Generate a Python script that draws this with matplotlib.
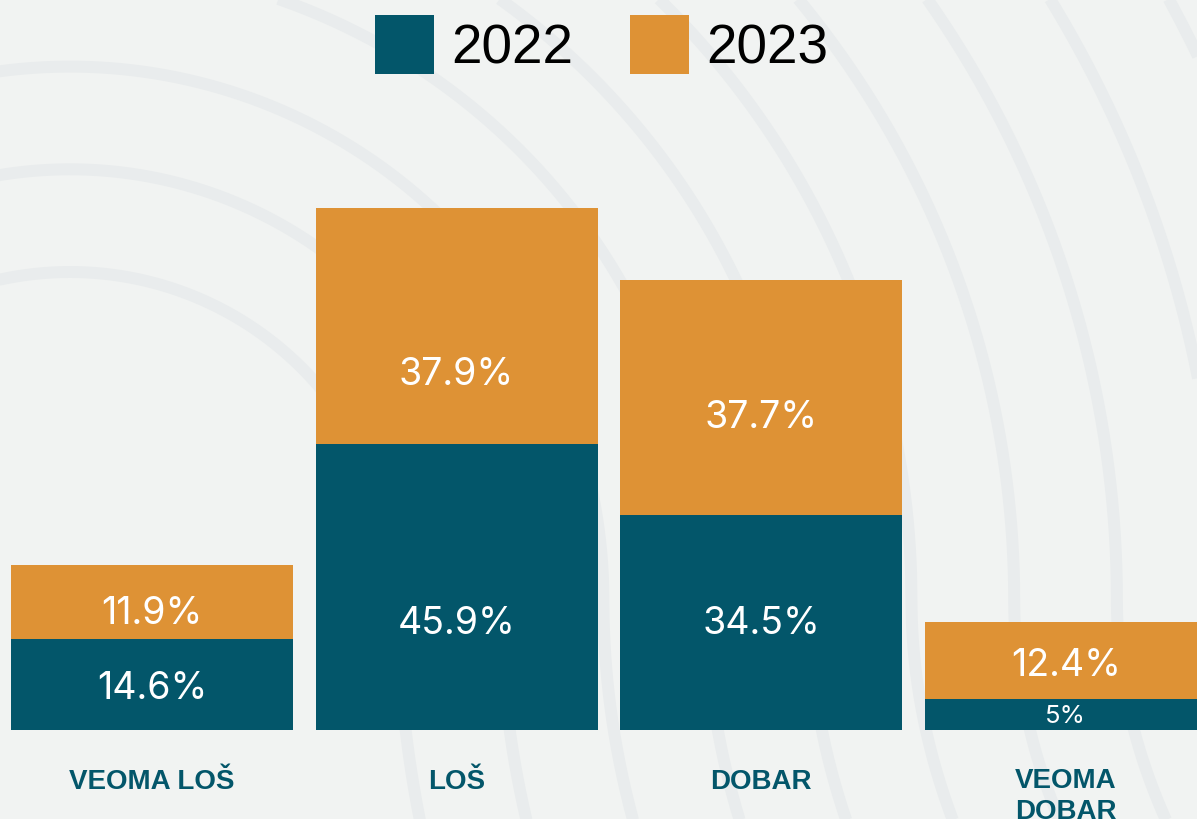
import numpy as np
import matplotlib
matplotlib.use("Agg")
import matplotlib.pyplot as plt
from matplotlib.patches import Rectangle
from matplotlib.transforms import blended_transform_factory

# ---- data ----
categories = ["VEOMA LOŠ", "LOŠ", "DOBAR", "VEOMA\nDOBAR"]
series_names = ["2022", "2023"]
values_2022 = [14.6, 45.9, 34.5, 5.0]
values_2023 = [11.9, 37.9, 37.7, 12.4]

# ---- style ----
W, H = 1197, 819
BG = "#f1f3f2"
ARC = "#e9eced"
TEAL = "#03566a"
ORANGE = "#de9235"
colors = [TEAL, ORANGE]

# vertical placement of the value labels (data units)
label_y_2022 = [7.3, 17.7, 17.7, 2.6]
label_y_2023 = [19.3, 57.6, 50.7, 10.9]

fig = plt.figure(figsize=(W / 100, H / 100), dpi=100, facecolor=BG)

# ---- decorative background ripples (pixel space) ----
bg = fig.add_axes([0, 0, 1, 1], zorder=0)
bg.set_xlim(0, W)
bg.set_ylim(H, 0)
bg.axis("off")
bg.set_facecolor(BG)
cx, cy = 70, 600
for k in range(11):
    r = 328 + 102.7 * k
    th = np.linspace(0, np.pi, 600)
    xu = cx + r * np.cos(th)
    yu = cy - r * np.sin(th)
    yl = np.linspace(cy, H + 30, 120)
    c = 0.02 * r + 5
    xl = cx + r + c * ((yl - cy) / 160.0) ** 2
    xs = np.concatenate([xl[::-1], xu])
    ys = np.concatenate([yl[::-1], yu])
    bg.plot(xs, ys, color=ARC, lw=8.6, solid_capstyle="butt", zorder=1)

# ---- legend ----
leg_x = [375, 630]
for x0, name, col in zip(leg_x, series_names, colors):
    bg.add_patch(Rectangle((x0, 15), 59, 59, facecolor=col, edgecolor="none", zorder=3))
    bg.text(x0 + 76, 63, name, fontsize=39.5, family="Liberation Sans",
            color="black", ha="left", va="baseline", zorder=3)

# ---- stacked bars ----
ax = fig.add_axes([0, 89 / H, 1, 730 / H], zorder=2)
ax.set_facecolor("none")
step = 304.6
ax.set_xlim(-152 / step, (W - 152) / step)
ax.set_ylim(0, 730 / 6.23)
ax.axis("off")

x = np.arange(len(categories))
width = 282 / step
ax.bar(x, values_2022, width=width, color=TEAL, linewidth=0)
ax.bar(x, values_2023, width=width, bottom=values_2022, color=ORANGE, linewidth=0)

for vals, ys in ((values_2022, label_y_2022), (values_2023, label_y_2023)):
    for xi, v, yv in zip(x, vals, ys):
        size = 18.5 if v < 6 else 27
        ax.text(xi, yv, f"{v:g}%", color="white", fontsize=size, family="Inter",
                ha="center", va="center_baseline")

# category labels under the bars (first line baseline fixed, extra lines below)
trans = blended_transform_factory(ax.transData, fig.transFigure)
line_gap = 30
for xi, cat in zip(x, categories):
    n = cat.count("\n")
    base = 789 + n * line_gap
    ax.text(xi, (H - base) / H, cat, transform=trans, color=TEAL, fontsize=20,
            fontweight="bold", family="Liberation Sans", ha="center",
            va="baseline", linespacing=1.24, clip_on=False)

fig.savefig("out.png", dpi=100, facecolor=BG)
